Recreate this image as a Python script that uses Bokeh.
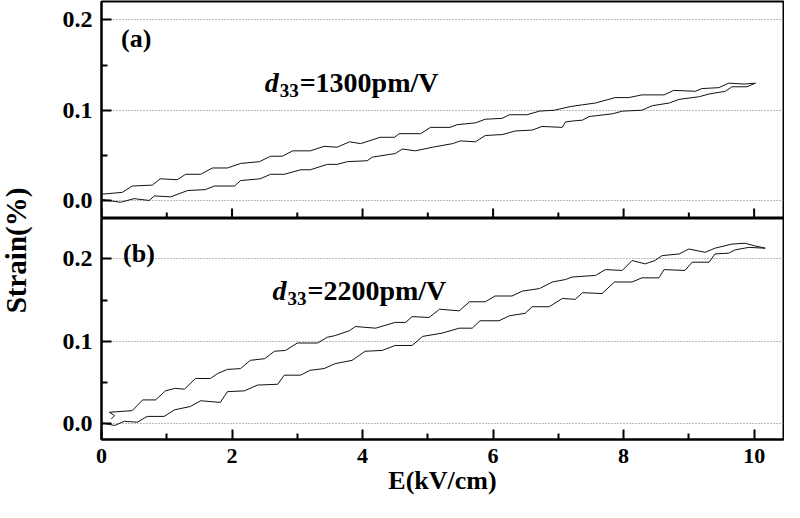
from math import pi
from bokeh.plotting import figure
from bokeh.layouts import row, column
from bokeh.models import Range1d, FixedTicker, NumeralTickFormatter, Label
from bokeh.embed import file_html
from bokeh.resources import INLINE

# ---------------- data ----------------
# panel (a): rising branch (lower curve)
a_rise_x = [0.015, 0.29, 0.5, 0.73, 0.81, 1.06, 1.32, 1.59, 1.73, 2.04, 2.13, 2.43, 2.59, 2.8,
            3.05, 3.2, 3.46, 3.61, 3.77, 4.07, 4.15, 4.5, 4.61, 4.81, 5.07, 5.38, 5.5, 5.73,
            5.88, 6.14, 6.34, 6.6, 6.75, 7.06, 7.11, 7.21, 7.37, 7.47, 7.83, 7.98, 8.28, 8.44,
            8.7, 8.85, 9.16, 9.31, 9.56, 9.66, 9.89, 10.02]
a_rise_y = [0.001, -0.002, 0.002, 0.0, 0.005, 0.004, 0.011, 0.012, 0.016, 0.016, 0.022, 0.024,
            0.029, 0.029, 0.034, 0.034, 0.040, 0.040, 0.043, 0.044, 0.048, 0.052, 0.057, 0.055,
            0.059, 0.063, 0.066, 0.065, 0.072, 0.073, 0.077, 0.078, 0.082, 0.081, 0.087, 0.088,
            0.089, 0.093, 0.096, 0.099, 0.100, 0.105, 0.108, 0.112, 0.115, 0.118, 0.121, 0.126,
            0.126, 0.130]
# panel (a): falling branch (upper curve)
a_fall_x = [0.015, 0.32, 0.47, 0.78, 0.9, 1.16, 1.29, 1.52, 1.70, 1.93, 2.13, 2.42, 2.59, 2.77,
            2.93, 3.2, 3.41, 3.61, 3.80, 3.97, 4.27, 4.49, 4.56, 4.89, 5.04, 5.34, 5.45, 5.73,
            5.88, 6.14, 6.25, 6.52, 6.71, 6.94, 7.18, 7.37, 7.57, 7.87, 8.08, 8.28, 8.62, 8.77,
            9.1, 9.2, 9.46, 9.61, 9.85, 10.02]
a_fall_y = [0.007, 0.009, 0.016, 0.017, 0.024, 0.023, 0.029, 0.029, 0.036, 0.036, 0.041, 0.043,
            0.049, 0.049, 0.055, 0.055, 0.060, 0.059, 0.065, 0.063, 0.070, 0.070, 0.074, 0.074,
            0.081, 0.081, 0.084, 0.086, 0.090, 0.091, 0.095, 0.095, 0.099, 0.100, 0.104, 0.106,
            0.108, 0.114, 0.114, 0.117, 0.117, 0.122, 0.121, 0.124, 0.125, 0.130, 0.129, 0.130]

# panel (b): rising branch (lower curve)
b_rise_x = [0.015, 0.2, 0.35, 0.55, 0.7, 0.96, 1.12, 1.36, 1.52, 1.82, 1.93, 2.19, 2.39, 2.7,
            2.8, 3.05, 3.2, 3.41, 3.58, 3.84, 4.04, 4.30, 4.5, 4.76, 4.92, 5.22, 5.48, 5.68,
            5.80, 6.09, 6.25, 6.49, 6.6, 6.86, 7.06, 7.26, 7.37, 7.67, 7.86, 8.13, 8.28, 8.54,
            8.62, 8.94, 9.05, 9.31, 9.40, 9.61, 9.71, 9.92, 10.17]
b_rise_y = [0.001, -0.002, 0.003, 0.002, 0.009, 0.009, 0.017, 0.021, 0.028, 0.026, 0.039, 0.040,
            0.047, 0.048, 0.059, 0.059, 0.065, 0.067, 0.073, 0.077, 0.088, 0.089, 0.095, 0.095,
            0.106, 0.110, 0.116, 0.116, 0.125, 0.125, 0.131, 0.134, 0.142, 0.142, 0.152, 0.151,
            0.159, 0.158, 0.172, 0.172, 0.177, 0.177, 0.187, 0.186, 0.196, 0.196, 0.206, 0.207,
            0.211, 0.214, 0.213]
# panel (b): falling branch (upper curve)
b_fall_x = [0.15, 0.2, 0.12, 0.47, 0.63, 0.83, 0.98, 1.13, 1.27, 1.44, 1.67, 1.78, 1.93, 2.13,
            2.28, 2.5, 2.65, 2.82, 3.0, 3.31, 3.46, 3.58, 3.80, 3.89, 4.2, 4.5, 4.66, 4.76,
            5.02, 5.18, 5.48, 5.64, 5.88, 6.03, 6.29, 6.45, 6.71, 6.91, 7.11, 7.21, 7.57, 7.72,
            7.98, 8.13, 8.33, 8.48, 8.59, 8.85, 9.0, 9.25, 9.40, 9.66, 9.86, 10.0, 10.17]
b_fall_y = [0.006, 0.010, 0.014, 0.016, 0.029, 0.029, 0.040, 0.043, 0.042, 0.055, 0.055, 0.061,
            0.066, 0.067, 0.077, 0.079, 0.088, 0.089, 0.098, 0.098, 0.105, 0.107, 0.113, 0.118,
            0.116, 0.123, 0.123, 0.130, 0.129, 0.139, 0.137, 0.148, 0.148, 0.155, 0.155, 0.161,
            0.164, 0.172, 0.175, 0.178, 0.180, 0.187, 0.186, 0.198, 0.194, 0.198, 0.204, 0.206,
            0.212, 0.208, 0.213, 0.218, 0.219, 0.216, 0.213]

x_major = [0, 2, 4, 6, 8, 10]
x_minor = [1, 3, 5, 7, 9]
y_major = [0.0, 0.1, 0.2]
y_minor = [0.05, 0.15]

x_title = "E(kV/cm)"
y_title = "Strain(%)"
panel_tags = ["(a)", "(b)"]
d33_values = ["=1300pm/V", "=2200pm/V"]

FONT = "Liberation Serif"

# ---------------- figures ----------------
x_range = Range1d(0, 10.45)
y_range_a = Range1d(-0.02, 0.2205)
y_range_b = Range1d(-0.019, 0.249)


def base_fig(height, y_range, top, bottom, x_loc):
    p = figure(width=744, height=height, x_range=x_range, y_range=y_range,
               output_backend="svg", toolbar_location=None, x_axis_location=x_loc,
               min_border_left=61, min_border_right=1,
               min_border_top=top, min_border_bottom=bottom)
    p.outline_line_color = "black"
    p.outline_line_width = 2
    p.background_fill_color = "white"
    p.border_fill_color = "white"
    p.xgrid.visible = False
    yt = FixedTicker(ticks=y_major, minor_ticks=y_minor)
    p.yaxis.ticker = yt
    p.ygrid.ticker = yt
    p.ygrid.grid_line_color = "#777777"
    p.ygrid.grid_line_dash = "1 2"
    p.ygrid.grid_line_width = 1
    p.yaxis.formatter = NumeralTickFormatter(format="0.0")
    for ax in (p.xaxis, p.yaxis):
        ax.axis_line_color = "black"
        ax.axis_line_width = 2
        ax.major_tick_line_color = "black"
        ax.major_tick_line_width = 2
        ax.minor_tick_line_color = "black"
        ax.minor_tick_line_width = 2
        ax.major_tick_in = 10
        ax.major_tick_out = 0
        ax.minor_tick_in = 6
        ax.minor_tick_out = 0
        ax.major_label_text_font = FONT
        ax.major_label_text_font_style = "bold"
        ax.major_label_text_color = "black"
    p.yaxis.major_label_text_font_size = "24px"
    p.yaxis.major_label_standoff = 9
    if x_loc is not None:
        p.xaxis.ticker = FixedTicker(ticks=x_major, minor_ticks=x_minor)
    return p


# top panel: no x axis of its own; its inward ticks on the shared edge are short rays
p1 = base_fig(218, y_range_a, 1, 0, None)
p1.ray(x=x_major, y=y_range_a.start, length=10, length_units="screen", angle=pi / 2,
       line_color="black", line_width=2)
p1.ray(x=x_minor, y=y_range_a.start, length=6, length_units="screen", angle=pi / 2,
       line_color="black", line_width=2)

p2 = base_fig(284, y_range_b, 0, 63, "below")
p2.xaxis.major_label_text_font_size = "22px"
p2.xaxis.major_label_standoff = 9
p2.xaxis.axis_label = x_title
p2.xaxis.axis_label_text_font = FONT
p2.xaxis.axis_label_text_font_style = "bold"
p2.xaxis.axis_label_text_font_size = "26px"
p2.xaxis.axis_label_text_color = "black"
p2.xaxis.axis_label_standoff = 0

p1.line(a_rise_x, a_rise_y, line_color="#111111", line_width=1)
p1.line(a_fall_x, a_fall_y, line_color="#111111", line_width=1)
p2.line(b_rise_x, b_rise_y, line_color="#111111", line_width=1)
p2.line(b_fall_x, b_fall_y, line_color="#111111", line_width=1)


def annotate(p, tag, tag_x, tag_y, d_x, d_y, rest):
    p.add_layout(Label(x=tag_x, y=tag_y, text=tag, text_font=FONT, text_font_style="bold",
                       text_font_size="26px", text_baseline="middle", text_align="left",
                       text_color="black"))
    p.add_layout(Label(x=d_x, y=d_y, text="d", text_font=FONT, text_font_style="bold italic",
                       text_font_size="28px", text_baseline="alphabetic", text_align="left",
                       text_color="black"))
    p.add_layout(Label(x=d_x, y=d_y, x_offset=15, y_offset=-8, text="33", text_font=FONT,
                       text_font_style="bold", text_font_size="19px",
                       text_baseline="alphabetic", text_align="left", text_color="black"))
    p.add_layout(Label(x=d_x, y=d_y, x_offset=35, text=rest, text_font=FONT,
                       text_font_style="bold", text_font_size="28px",
                       text_baseline="alphabetic", text_align="left", text_color="black"))


annotate(p1, panel_tags[0], 0.3, 0.179, 2.5, 0.131, d33_values[0])
annotate(p2, panel_tags[1], 0.33, 0.207, 2.62, 0.162, d33_values[1])

# left strip carrying the shared y-axis title
lab = figure(width=40, height=502, x_range=Range1d(0, 40), y_range=Range1d(0, 502),
             output_backend="svg", toolbar_location=None,
             x_axis_type=None, y_axis_type=None,
             min_border_left=0, min_border_right=0, min_border_top=0, min_border_bottom=0)
lab.outline_line_color = None
lab.grid.visible = False
lab.background_fill_color = "white"
lab.border_fill_color = "white"
lab.add_layout(Label(x=15, y=252, text=y_title, angle=pi / 2, text_font=FONT,
                     text_font_style="bold", text_font_size="29px",
                     text_align="center", text_baseline="middle", text_color="black"))

layout = row(lab, column(p1, p2))

open("out.html", "w").write(file_html(layout, INLINE))
